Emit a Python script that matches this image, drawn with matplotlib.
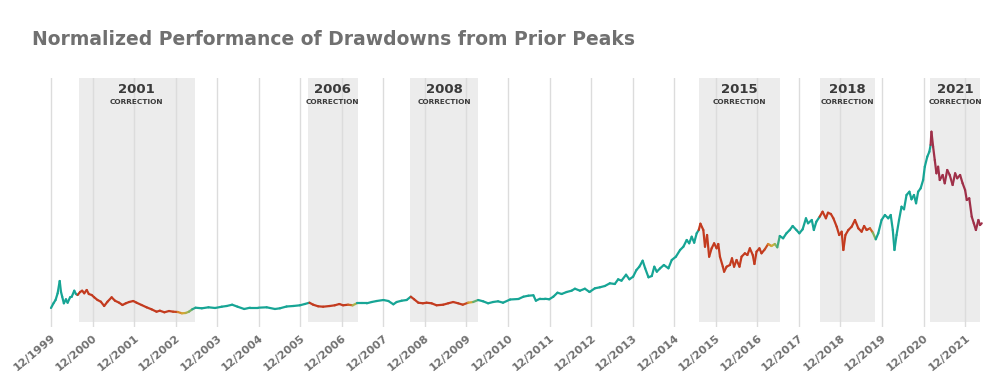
import numpy as np
import matplotlib
matplotlib.use("Agg")
import matplotlib.pyplot as plt
from matplotlib.collections import LineCollection
from matplotlib.colors import LinearSegmentedColormap, to_rgba

# decimal years
years = [
    1999.92, 1999.98, 2000.03, 2000.08, 2000.13, 2000.16, 2000.19, 2000.23, 2000.28, 2000.32,
    2000.38, 2000.42, 2000.48, 2000.52, 2000.56, 2000.62, 2000.67, 2000.72, 2000.78, 2000.83,
    2000.90, 2000.96, 2001.04, 2001.12, 2001.20, 2001.28, 2001.38, 2001.46, 2001.56, 2001.64,
    2001.72, 2001.80, 2001.90, 2001.98, 2002.10, 2002.22, 2002.34, 2002.46, 2002.54, 2002.65,
    2002.76, 2002.86, 2002.97, 2003.07, 2003.16, 2003.24, 2003.32, 2003.40, 2003.55, 2003.71,
    2003.87, 2004.03, 2004.15, 2004.28, 2004.41, 2004.57, 2004.71, 2004.91, 2005.11, 2005.31,
    2005.43, 2005.59, 2005.75, 2005.91, 2006.03, 2006.14, 2006.23, 2006.35, 2006.47, 2006.63,
    2006.75, 2006.86, 2006.95, 2007.07, 2007.18, 2007.28, 2007.40, 2007.52, 2007.64, 2007.76,
    2007.92, 2008.04, 2008.16, 2008.24, 2008.36, 2008.48, 2008.58, 2008.66, 2008.76, 2008.87,
    2008.96, 2009.08, 2009.20, 2009.36, 2009.48, 2009.60, 2009.72, 2009.83, 2009.96, 2010.08,
    2010.20, 2010.32, 2010.44, 2010.56, 2010.68, 2010.80, 2010.97, 2011.17, 2011.29, 2011.41,
    2011.53, 2011.59, 2011.69, 2011.81, 2011.91, 2012.01, 2012.11, 2012.21, 2012.33, 2012.45,
    2012.53, 2012.65, 2012.77, 2012.88, 2013.01, 2013.13, 2013.25, 2013.37, 2013.49, 2013.57,
    2013.65, 2013.76, 2013.84, 2013.93, 2014.01, 2014.08, 2014.16, 2014.22, 2014.30, 2014.38,
    2014.44, 2014.50, 2014.58, 2014.67, 2014.78, 2014.86, 2014.96, 2015.06, 2015.14, 2015.22,
    2015.28, 2015.34, 2015.40, 2015.46, 2015.51, 2015.55, 2015.62, 2015.66, 2015.71, 2015.76,
    2015.82, 2015.88, 2015.94, 2015.98, 2016.02, 2016.09, 2016.12, 2016.18, 2016.26, 2016.31,
    2016.36, 2016.42, 2016.49, 2016.54, 2016.62, 2016.68, 2016.74, 2016.81, 2016.85, 2016.90,
    2016.97, 2017.02, 2017.10, 2017.18, 2017.26, 2017.34, 2017.40, 2017.46, 2017.54, 2017.62,
    2017.70, 2017.77, 2017.86, 2017.93, 2018.01, 2018.09, 2018.14, 2018.23, 2018.28, 2018.34,
    2018.42, 2018.49, 2018.57, 2018.62, 2018.69, 2018.75, 2018.83, 2018.89, 2018.95, 2018.99,
    2019.04, 2019.11, 2019.19, 2019.27, 2019.35, 2019.43, 2019.49, 2019.55, 2019.63, 2019.70,
    2019.77, 2019.83, 2019.91, 2019.99, 2020.07, 2020.13, 2020.18, 2020.22, 2020.27, 2020.33,
    2020.39, 2020.45, 2020.51, 2020.58, 2020.63, 2020.69, 2020.74, 2020.79, 2020.85, 2020.91,
    2020.95, 2021.01, 2021.06, 2021.09, 2021.11, 2021.15, 2021.19, 2021.23, 2021.27, 2021.31,
    2021.38, 2021.43, 2021.49, 2021.55, 2021.62, 2021.68, 2021.73, 2021.80, 2021.86, 2021.92,
    2021.96, 2022.02, 2022.08, 2022.13, 2022.18, 2022.24, 2022.28, 2022.32,
]

# normalized performance (start = 1.0)
perf = [
    1.000, 1.094, 1.160, 1.294, 1.540, 1.326, 1.226, 1.094, 1.174, 1.106,
    1.214, 1.226, 1.346, 1.280, 1.260, 1.320, 1.346, 1.294, 1.360, 1.280,
    1.260, 1.214, 1.160, 1.126, 1.040, 1.126, 1.214, 1.146, 1.106, 1.060,
    1.094, 1.120, 1.140, 1.106, 1.060, 1.014, 0.974, 0.926, 0.946, 0.914,
    0.940, 0.926, 0.920, 0.894, 0.900, 0.926, 0.974, 1.006, 0.994, 1.014,
    1.000, 1.026, 1.040, 1.066, 1.026, 0.980, 1.006, 1.006, 1.014, 0.980,
    0.994, 1.030, 1.040, 1.054, 1.080, 1.106, 1.066, 1.034, 1.026, 1.040,
    1.054, 1.080, 1.054, 1.066, 1.054, 1.094, 1.094, 1.094, 1.120, 1.140,
    1.160, 1.140, 1.074, 1.120, 1.146, 1.160, 1.226, 1.174, 1.106, 1.094,
    1.106, 1.094, 1.054, 1.066, 1.094, 1.120, 1.094, 1.066, 1.106, 1.120,
    1.160, 1.134, 1.094, 1.120, 1.134, 1.106, 1.170, 1.180, 1.226, 1.246,
    1.254, 1.146, 1.186, 1.186, 1.174, 1.226, 1.306, 1.280, 1.320, 1.346,
    1.386, 1.346, 1.386, 1.320, 1.394, 1.414, 1.440, 1.494, 1.480, 1.574,
    1.546, 1.666, 1.574, 1.626, 1.760, 1.826, 1.946, 1.794, 1.614, 1.640,
    1.826, 1.726, 1.794, 1.860, 1.794, 1.960, 2.026, 2.160, 2.226, 2.360,
    2.294, 2.426, 2.306, 2.494, 2.560, 2.686, 2.560, 2.226, 2.460, 2.026,
    2.194, 2.294, 2.194, 2.280, 2.026, 1.826, 1.726, 1.826, 1.860, 1.994,
    1.826, 1.960, 1.826, 2.026, 2.094, 2.060, 2.194, 2.060, 1.880, 2.126,
    2.194, 2.094, 2.174, 2.280, 2.240, 2.280, 2.214, 2.440, 2.394, 2.494,
    2.560, 2.640, 2.560, 2.494, 2.574, 2.794, 2.694, 2.760, 2.560, 2.726,
    2.826, 2.926, 2.794, 2.906, 2.880, 2.794, 2.626, 2.460, 2.526, 2.160,
    2.460, 2.560, 2.626, 2.760, 2.594, 2.526, 2.640, 2.560, 2.594, 2.506,
    2.374, 2.494, 2.760, 2.860, 2.794, 2.860, 2.560, 2.160, 2.460, 2.760,
    3.026, 2.974, 3.260, 3.326, 3.174, 3.260, 3.094, 3.326, 3.394, 3.560,
    3.826, 4.026, 4.126, 4.260, 4.526, 4.226, 3.960, 3.694, 3.826, 3.560,
    3.660, 3.494, 3.760, 3.660, 3.460, 3.694, 3.594, 3.660, 3.494, 3.360,
    3.160, 3.194, 2.826, 2.694, 2.560, 2.760, 2.660, 2.694,
]

# corrections: label, shaded start, end of drawdown, end of recovery
corr_labels = ["2001", "2006", "2008", "2015", "2018", "2021"]
corr_start = [2000.59, 2006.10, 2008.57, 2015.52, 2018.43, 2021.08]
corr_dd_end = [2002.90, 2007.10, 2009.88, 2017.12, 2019.65, 2022.40]
corr_end = [2003.38, 2007.30, 2010.19, 2017.46, 2019.76, 2022.29]

tick_years = np.arange(1999.92, 2022.0, 1.0)
tick_labels = ["12/%d" % y for y in range(1999, 2022)]

TEAL = "#17a595"
RED = "#c33b1f"
MAROON = "#9f3049"
rec_cmap = LinearSegmentedColormap.from_list(
    "rec", [RED, "#d9862a", "#d1ad38", "#8fb45a", TEAL])

x = np.array(years)
y = np.array(perf)


def colour_at(t):
    for i, s in enumerate(corr_start):
        if s <= t <= max(corr_end[i], corr_dd_end[i]):
            if corr_labels[i] == "2021":
                return to_rgba(MAROON)
            if t <= corr_dd_end[i]:
                return to_rgba(RED)
            f = (t - corr_dd_end[i]) / (corr_end[i] - corr_dd_end[i])
            return rec_cmap(min(max(f, 0), 1))
    return to_rgba(TEAL)


fig = plt.figure(figsize=(10.01, 3.80), dpi=100)
# axes runs down to where the gridlines stop; the shading stops a bit higher
ax = fig.add_axes([45 / 1001, 1 - 327 / 380, 940 / 1001, 249 / 380])

ax.set_xlim(1999.776, 2022.399)
ax.set_ylim(0.62, 5.6)
shade_bottom = 5 / 249

for i, lab in enumerate(corr_labels):
    ax.axvspan(corr_start[i], corr_end[i], ymin=shade_bottom, ymax=1,
               color="#ececec", lw=0, zorder=0)
    xm = (corr_start[i] + corr_end[i]) / 2
    ax.text(xm, 5.55 - 0.25, lab, ha="center", va="baseline", fontsize=9.5,
            fontweight="bold", color="#3a3a3a")
    ax.text(xm, 5.55 - 0.48, "CORRECTION", ha="center", va="baseline",
            fontsize=5.3, fontweight="bold", color="#3a3a3a")

for t in tick_years:
    ax.axvline(t, color="#dcdcdc", lw=1, zorder=1)

pts = np.column_stack([x, y]).reshape(-1, 1, 2)
segs = np.concatenate([pts[:-1], pts[1:]], axis=1)
cols = [colour_at((x[i] + x[i + 1]) / 2) for i in range(len(x) - 1)]
lc = LineCollection(segs, colors=cols, linewidths=1.6, capstyle="round",
                    joinstyle="round", zorder=3)
ax.add_collection(lc)

ax.set_xticks(tick_years)
ax.set_xticklabels(tick_labels, rotation=40, ha="right", rotation_mode="anchor",
                   fontsize=8, fontweight="bold", color="#707070")
ax.tick_params(axis="x", length=0, pad=4)
ax.set_yticks([])
for s in ax.spines.values():
    s.set_visible(False)

fig.text(32 / 1001, 1 - 45 / 380, "Normalized Performance of Drawdowns from Prior Peaks",
         fontsize=13.5, fontweight="bold", color="#707070", va="baseline")

fig.savefig("out.png", dpi=100, facecolor="white")
